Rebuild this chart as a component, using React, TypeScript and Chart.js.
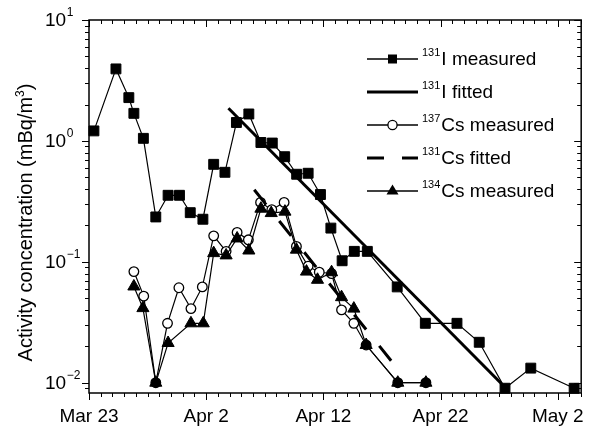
import React, { useEffect, useRef } from 'react';
import { Chart, registerables } from 'chart.js';

Chart.register(...registerables);

const FONT = '"Liberation Sans", Arial, Helvetica, sans-serif';

// x values: days after Mar 23
const xTickDays = [0, 10, 20, 30, 40];
const xTickLabels = ['Mar 23', 'Apr 2', 'Apr 12', 'Apr 22', 'May 2'];

const yTickValues = [0.01, 0.1, 1, 10];
const yTickExponents = ['\u22122', '\u22121', '0', '1'];

const i131Days = [0.42, 2.3, 3.4, 3.83, 4.64, 5.7, 6.75, 7.72, 8.64, 9.72, 10.64, 11.6, 12.58, 13.64, 14.67, 15.64, 16.7, 17.72, 18.7, 19.75, 20.64, 21.6, 22.64, 23.75, 26.3, 28.7, 31.4, 33.3, 35.5, 37.7, 41.4];
const i131Values = [1.21, 3.94, 2.28, 1.69, 1.05, 0.235, 0.355, 0.355, 0.255, 0.225, 0.64, 0.55, 1.42, 1.67, 0.97, 0.96, 0.74, 0.53, 0.54, 0.36, 0.19, 0.102, 0.122, 0.122, 0.062, 0.031, 0.031, 0.0216, 0.009, 0.0132, 0.009];

const cs137Days = [3.83, 4.67, 5.7, 6.7, 7.67, 8.7, 9.67, 10.64, 11.7, 12.64, 13.6, 14.64, 15.6, 16.65, 17.7, 18.7, 19.65, 20.7, 21.55, 22.6, 23.65, 26.35, 28.75];
const cs137Values = [0.083, 0.052, 0.01, 0.031, 0.061, 0.041, 0.062, 0.164, 0.122, 0.175, 0.152, 0.31, 0.27, 0.31, 0.134, 0.092, 0.082, 0.08, 0.04, 0.031, 0.0205, 0.01, 0.01];

const cs134Days = [3.83, 4.6, 5.7, 6.75, 8.7, 9.75, 10.64, 11.7, 12.64, 13.64, 14.67, 15.55, 16.72, 17.7, 18.56, 19.5, 20.7, 21.55, 22.6, 23.65, 26.35, 28.75];
const cs134Values = [0.0625, 0.0414, 0.01, 0.0213, 0.031, 0.031, 0.118, 0.113, 0.156, 0.124, 0.275, 0.253, 0.26, 0.126, 0.083, 0.071, 0.082, 0.051, 0.041, 0.0205, 0.01, 0.01];

const i131FitDays = [11.9, 35.2];
const i131FitValues = [1.86, 0.0098];

const csFitDays = [14.1, 26.75];
const csFitValues = [0.394, 0.0116];

const legendIsotopes = ['131', '131', '137', '131', '134'];
const legendNames = ['I measured', 'I fitted', 'Cs measured', 'Cs fitted', 'Cs measured'];

const toPoints = (xs: number[], ys: number[]) => xs.map((x, i) => ({ x, y: ys[i] }));

export default function App() {
  const ref = useRef<HTMLCanvasElement>(null);

  useEffect(() => {
    const canvas = ref.current!;

    const decorPlugin = {
      id: 'decor',
      afterDraw(chart: any) {
        const { ctx, chartArea: a, scales } = chart;
        const xs = scales.x;
        const ys = scales.y;
        ctx.save();
        ctx.strokeStyle = '#000';
        ctx.fillStyle = '#000';
        const seg = (x1: number, y1: number, x2: number, y2: number) => {
          ctx.beginPath();
          ctx.moveTo(x1, y1);
          ctx.lineTo(x2, y2);
          ctx.stroke();
        };
        // frame
        ctx.lineWidth = 1.5;
        ctx.strokeRect(a.left, a.top, a.right - a.left, a.bottom - a.top);
        ctx.lineWidth = 1;
        // x ticks (daily)
        for (let d = Math.ceil(xs.min); d <= xs.max; d++) {
          const px = Math.round(xs.getPixelForValue(d)) + 0.5;
          const len = d % 10 === 0 ? 7 : 4;
          seg(px, a.bottom, px, a.bottom + len);
          seg(px, a.top, px, a.top + len);
        }
        // y ticks (log)
        for (let e = -3; e <= 1; e++) {
          for (let k = 1; k <= 9; k++) {
            const v = k * Math.pow(10, e);
            if (v < ys.min * 0.999 || v > ys.max * 1.001) continue;
            const py = Math.round(ys.getPixelForValue(v)) + 0.5;
            const len = k === 1 ? 7 : 4;
            seg(a.left - len, py, a.left, py);
            seg(a.right - len, py, a.right, py);
          }
        }
        // y tick labels with superscripts
        ctx.textBaseline = 'middle';
        ctx.textAlign = 'left';
        yTickValues.forEach((v, i) => {
          const py = ys.getPixelForValue(v);
          ctx.font = `19px ${FONT}`;
          ctx.fillText('10', 45, py + 1);
          const w = ctx.measureText('10').width;
          ctx.font = `12px ${FONT}`;
          ctx.fillText(yTickExponents[i], 45 + w + 0.5, py - 7);
        });
        // y axis title
        ctx.save();
        ctx.translate(32, 222.5);
        ctx.rotate(-Math.PI / 2);
        ctx.textBaseline = 'alphabetic';
        ctx.font = `20px ${FONT}`;
        const t1 = 'Activity concentration (mBq/m';
        const t3 = ')';
        const w1 = ctx.measureText(t1).width;
        const w3 = ctx.measureText(t3).width;
        ctx.font = `12px ${FONT}`;
        const w2 = ctx.measureText('3').width;
        const total = w1 + w2 + w3;
        let cx = -total / 2;
        ctx.font = `20px ${FONT}`;
        ctx.fillText(t1, cx, 0);
        cx += w1;
        ctx.font = `12px ${FONT}`;
        ctx.fillText('3', cx, -8);
        cx += w2;
        ctx.font = `20px ${FONT}`;
        ctx.fillText(t3, cx, 0);
        ctx.restore();

        // legend
        const rows = [59, 92, 125, 158, 191];
        const lx1 = 367;
        const lx2 = 418;
        const mx = 392.5;
        rows.forEach((ry, i) => {
          ctx.save();
          ctx.strokeStyle = '#000';
          ctx.fillStyle = '#000';
          if (i === 1) {
            ctx.lineWidth = 3;
            seg(lx1, ry, lx2, ry);
          } else if (i === 3) {
            ctx.lineWidth = 3;
            ctx.setLineDash([17, 18]);
            seg(lx1, ry, lx2, ry);
            ctx.setLineDash([]);
          } else {
            ctx.lineWidth = 1.3;
            seg(lx1, ry, lx2, ry);
            if (i === 0) {
              ctx.fillRect(mx - 4.5, ry - 4.5, 9, 9);
            } else if (i === 2) {
              ctx.beginPath();
              ctx.arc(mx, ry, 4.6, 0, Math.PI * 2);
              ctx.fillStyle = '#fff';
              ctx.fill();
              ctx.lineWidth = 1.3;
              ctx.stroke();
            } else {
              ctx.beginPath();
              ctx.moveTo(mx, ry - 6.5);
              ctx.lineTo(mx + 6, ry + 3.5);
              ctx.lineTo(mx - 6, ry + 3.5);
              ctx.closePath();
              ctx.fill();
            }
          }
          ctx.restore();
          ctx.textAlign = 'left';
          ctx.textBaseline = 'middle';
          ctx.font = `11px ${FONT}`;
          ctx.fillText(legendIsotopes[i], 422, ry - 6);
          const sw = ctx.measureText(legendIsotopes[i]).width;
          ctx.font = `19px ${FONT}`;
          ctx.fillText(legendNames[i], 422 + sw + 1, ry + 1);
        });
        ctx.restore();
      },
    };

    const chart = new Chart(canvas, {
      type: 'line',
      data: {
        datasets: [
          {
            label: '131I fitted',
            data: toPoints(i131FitDays, i131FitValues),
            borderColor: '#000',
            borderWidth: 3,
            pointRadius: 0,
            fill: false,
          },
          {
            label: '131Cs fitted',
            data: toPoints(csFitDays, csFitValues),
            borderColor: '#000',
            borderWidth: 3,
            borderDash: [19, 21],
            pointRadius: 0,
            fill: false,
          },
          {
            label: '134Cs measured',
            data: toPoints(cs134Days, cs134Values),
            borderColor: '#000',
            borderWidth: 1.2,
            pointStyle: 'triangle',
            pointRadius: 7,
            pointBackgroundColor: '#000',
            pointBorderColor: '#000',
            pointBorderWidth: 1,
            clip: 10,
            fill: false,
          },
          {
            label: '137Cs measured',
            data: toPoints(cs137Days, cs137Values),
            borderColor: '#000',
            borderWidth: 1.2,
            pointStyle: 'circle',
            pointRadius: 4.8,
            pointBackgroundColor: (c: any) => (c.raw && c.raw.y < 0.025 ? '#000' : '#fff'),
            pointBorderColor: '#000',
            pointBorderWidth: 1.3,
            clip: 10,
            fill: false,
          },
          {
            label: '131I measured',
            data: toPoints(i131Days, i131Values),
            borderColor: '#000',
            borderWidth: 1.2,
            pointStyle: 'rect',
            pointRadius: 7,
            pointBackgroundColor: '#000',
            pointBorderColor: '#000',
            pointBorderWidth: 1,
            clip: 10,
            fill: false,
          },
        ],
      },
      options: {
        animation: false,
        responsive: false,
        devicePixelRatio: 1,
        layout: { padding: { left: 89, right: 3, top: 20, bottom: 0 } },
        plugins: { legend: { display: false }, tooltip: { enabled: false } },
        elements: { line: { tension: 0 } },
        scales: {
          x: {
            type: 'linear',
            min: 0,
            max: 42,
            grid: { display: false, drawTicks: false, tickLength: 0 },
            border: { display: false },
            ticks: {
              stepSize: 10,
              includeBounds: false,
              autoSkip: false,
              maxRotation: 0,
              padding: 12,
              color: '#000',
              font: { family: FONT, size: 19 },
              callback: (v: any) => {
                const i = xTickDays.indexOf(Number(v));
                return i >= 0 ? xTickLabels[i] : '';
              },
            },
            afterFit: (s: any) => {
              s.height = 33;
            },
          },
          y: {
            type: 'logarithmic',
            display: false,
            min: 0.00822,
            max: 10,
          },
        },
      },
      plugins: [decorPlugin],
    } as any);

    return () => chart.destroy();
  }, []);

  return (
    <div style={{ position: 'fixed', left: 0, top: 0, width: 596, height: 426, background: '#fff' }}>
      <canvas ref={ref} width={596} height={426} />
    </div>
  );
}
